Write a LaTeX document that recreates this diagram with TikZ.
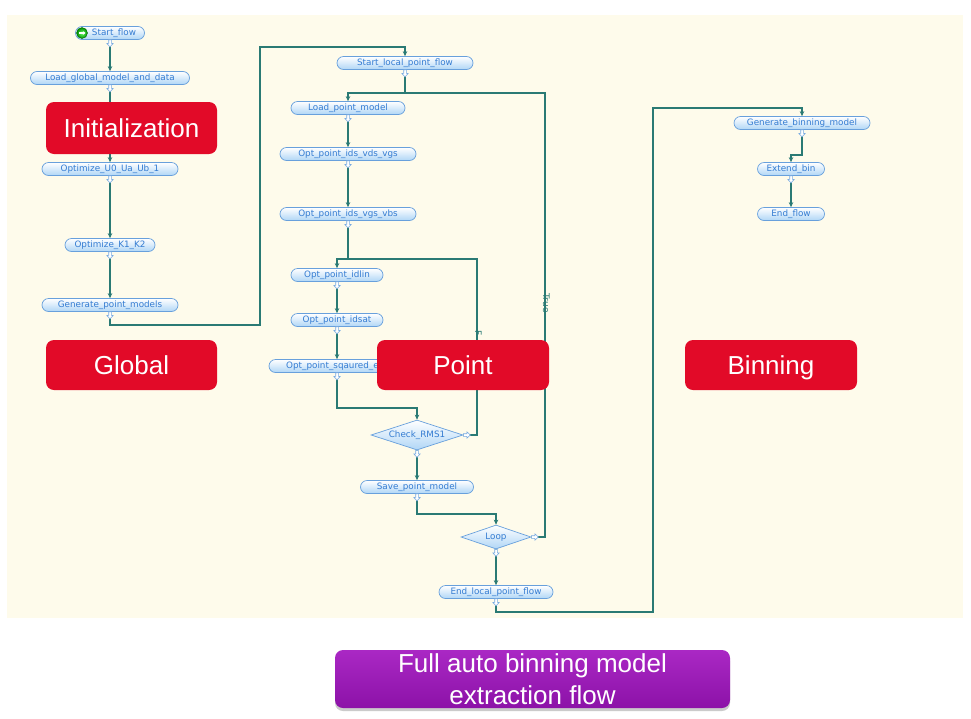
\documentclass[tikz,border=0pt]{standalone}
\usepackage{fontspec}
\setmainfont{Liberation Sans}
\newfontfamily\nodefont{DejaVu Sans}
\usetikzlibrary{shapes.geometric,arrows.meta,shadows}
\definecolor{cream}{RGB}{254,251,235}
\definecolor{teal}{RGB}{42,122,116}
\definecolor{nborder}{RGB}{104,160,220}
\definecolor{ntext}{RGB}{52,124,210}
\definecolor{nfill}{RGB}{176,214,246}
\definecolor{portc}{RGB}{120,170,225}
\definecolor{redbox}{RGB}{226,10,40}
\definecolor{purtop}{RGB}{170,40,196}
\definecolor{purbot}{RGB}{140,18,168}
\tikzset{
  stepnode/.style={draw=nborder, line width=0.7pt, rectangle, rounded corners=6.5pt,
    minimum height=13pt, inner sep=0pt, top color=white, bottom color=nfill,
    text=ntext, font=\nodefont\fontsize{8.8}{9}\selectfont},
  decnode/.style={draw=nborder, line width=0.7pt, diamond, inner sep=0pt, aspect=3,
    top color=white, bottom color=nfill,
    text=ntext, font=\nodefont\fontsize{8.8}{9}\selectfont},
  flow/.style={draw=teal, line width=1.3pt, -{Stealth[length=5pt,width=4.5pt]}},
  plain/.style={draw=teal, line width=1.3pt},
  redlabel/.style={fill=redbox, rounded corners=8pt, text=white, inner sep=0pt,
    text height=18.6pt, text depth=0pt, font=\fontsize{26}{28}\selectfont},
  edgelabel/.style={text=teal, font=\nodefont\fontsize{9}{9}\selectfont, inner sep=0pt, rotate=-90},
  port/.pic={\draw[portc, fill=white, line width=0.6pt]
    (-1.3,0)--(-1.3,3.5)--(-3.2,3.5)--(0,7)--(3.2,3.5)--(1.3,3.5)--(1.3,0)--cycle;},
  portr/.pic={\draw[portc, fill=white, line width=0.6pt]
    (0,-1.3)--(3.5,-1.3)--(3.5,-3.2)--(7,0)--(3.5,3.2)--(3.5,1.3)--(0,1.3)--cycle;}
}
\begin{document}
\begin{tikzpicture}[x=1pt,y=-1pt]
\useasboundingbox (0,0) rectangle (971,718);
\fill[white] (0,0) rectangle (971,718);
\fill[cream] (7,15) rectangle (963,618);

% nodes
\node[stepnode, minimum width=69pt] (sf) at (110,33) {\hspace*{8pt}Start\_flow};
\node[stepnode, minimum width=159pt] (lg) at (110,78) {Load\_global\_model\_and\_data};
\node[stepnode, minimum width=136pt] (ou) at (110,169) {Optimize\_U0\_Ua\_Ub\_1};
\node[stepnode, minimum width=90pt] (ok) at (110,245) {Optimize\_K1\_K2};
\node[stepnode, minimum width=136pt] (gp) at (110,305) {Generate\_point\_models};
\node[stepnode, minimum width=136pt] (sl) at (405,63) {Start\_local\_point\_flow};
\node[stepnode, minimum width=114pt] (lp) at (348,108) {Load\_point\_model};
\node[stepnode, minimum width=136pt] (v1) at (348,154) {Opt\_point\_ids\_vds\_vgs};
\node[stepnode, minimum width=136pt] (v2) at (348,214) {Opt\_point\_ids\_vgs\_vbs};
\node[stepnode, minimum width=92pt] (il) at (337,275) {Opt\_point\_idlin};
\node[stepnode, minimum width=92pt] (is) at (337,320) {Opt\_point\_idsat};
\node[stepnode, minimum width=136pt] (sq) at (337,366) {};
\node[text=ntext, font=\nodefont\fontsize{8.8}{9}\selectfont, inner sep=0pt, anchor=west] (sqt) at (286,366) {Opt\_point\_sqaured\_e};
\node[decnode, minimum width=92pt, minimum height=30pt] (ck) at (417,435) {Check\_RMS1};
\node[stepnode, minimum width=113pt] (sp) at (417,487) {Save\_point\_model};
\node[decnode, minimum width=70pt, minimum height=24pt] (lo) at (496,537) {Loop};
\node[stepnode, minimum width=114pt] (el) at (496,592) {End\_local\_point\_flow};
\node[stepnode, minimum width=136pt] (gb) at (802,123) {Generate\_binning\_model};
\node[stepnode, minimum width=67pt] (eb) at (791,169) {Extend\_bin};
\node[stepnode, minimum width=67pt] (ef) at (791,214) {End\_flow};

% start icon
\shade[inner color=green!60!white, outer color=green!55!black, draw=green!40!black, line width=0.4pt] (82,33) circle (5.5);
\draw[white, line width=1.1pt, -{Stealth[length=2.5pt,width=3.5pt]}] (79,33) -- (85.5,33);

% connectors
\draw[flow] (sf.south) -- (lg.north);
\draw[flow] (lg.south) -- (ou.north);
\draw[flow] (ou.south) -- (ok.north);
\draw[flow] (ok.south) -- (gp.north);
\draw[flow] (gp.south) -- (110,325) -| (260,47) -| (sl.north);
\draw[plain] (sl.south) -- (405,93);
\draw[flow] (lo.east) -- (545,537) -- (545,93) -| (lp.north);
\node[edgelabel, anchor=north] (tl) at (550,303) {True};
\draw[flow] (lp.south) -- (v1.north);
\draw[flow] (v1.south) -- (v2.north);
\draw[flow] (v2.south) -- (348,259) -| (il.north);
\draw[plain] (ck.east) -- (477,435) -- (477,259) -- (348,259);
\node[edgelabel, anchor=north] (fl) at (482,333) {F};
\draw[flow] (il.south) -- (is.north);
\draw[flow] (is.south) -- (sq.north);
\draw[flow] (sq.south) -- (337,408) -| (ck.north);
\draw[flow] (ck.south) -- (sp.north);
\draw[flow] (sp.south) -- (417,514) -| (lo.north);
\draw[flow] (lo.south) -- (el.north);
\draw[flow] (el.south) -- (496,612) -| (653,108) -| (gb.north);
\draw[flow] (gb.south) -- (802,155) -| (eb.north);
\draw[flow] (eb.south) -- (ef.north);

% ports
\foreach \n in {sf,lg,ou,ok,gp,sl,lp,v1,v2,il,is,sq,ck,sp,lo,el,gb,eb}
  \pic at (\n.south) {port};
\pic at (ck.east) {portr};
\pic at (lo.east) {portr};

% category labels
\node[redlabel, minimum width=171pt, minimum height=52pt] (init) at (131.5,128) {Initialization};
\node[redlabel, minimum width=171pt, minimum height=50pt] (glob) at (131.5,365) {Global};
\node[redlabel, minimum width=172pt, minimum height=50pt] (pnt) at (463,365) {Point};
\node[redlabel, minimum width=172pt, minimum height=50pt] (bin) at (771,365) {Binning};

% title
\node[top color=purtop, bottom color=purbot, rounded corners=8pt, minimum width=395pt,
  minimum height=58pt, inner sep=0pt, text=white, align=center,
  font=\fontsize{26}{32}\selectfont,
  drop shadow={shadow xshift=0pt, shadow yshift=-3pt, fill=black!40}] (title) at (532.5,679)
  {Full auto binning model\\extraction flow};
\end{tikzpicture}
\end{document}
